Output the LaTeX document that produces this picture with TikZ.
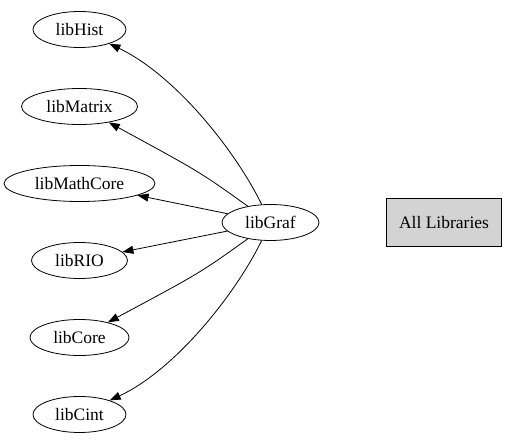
\documentclass[tikz,border=0pt]{standalone}
\usepackage{fontspec}
\setmainfont{Liberation Serif}
\usetikzlibrary{shapes.geometric,arrows.meta}
\definecolor{lgrey}{HTML}{D3D3D3}
\begin{document}
\begin{tikzpicture}[x=1pt,y=1pt,
  lib/.style={ellipse,draw,line width=0.8pt,inner sep=0pt,minimum height=36pt,font=\fontsize{17.5}{20}\selectfont},
  allbox/.style={rectangle,draw,line width=0.8pt,fill=lgrey,minimum width=115pt,minimum height=48pt,inner sep=0pt,font=\fontsize{17.5}{20}\selectfont},
  dep/.style={line width=0.8pt,-{Triangle[length=11pt,width=8pt]}}]
\useasboundingbox (0,0) rectangle (507,445);
\node[lib,minimum width=93pt]  (hist)     at (79.5,415.5) {libHist};
\node[lib,minimum width=116pt] (matrix)   at (79.5,338.5) {libMatrix};
\node[lib,minimum width=151pt] (mathcore) at (79.5,261.5) {libMathCore};
\node[lib,minimum width=96pt]  (rio)      at (79.5,184.5) {libRIO};
\node[lib,minimum width=99pt]  (core)     at (79.5,107.5) {libCore};
\node[lib,minimum width=93pt]  (cint)     at (79.5,30.5)  {libCint};
\node[lib,minimum width=97pt]  (graf)     at (270.5,222.5) {libGraf};
\node[allbox] (all) at (444,222.5) {All Libraries};
\draw[dep] (graf) .. controls (235,295) and (175,370) .. (hist);
\draw[dep] (graf) .. controls (200,273) .. (matrix);
\draw[dep] (graf) -- (mathcore);
\draw[dep] (graf) -- (rio);
\draw[dep] (graf) .. controls (200,172) .. (core);
\draw[dep] (graf) .. controls (235,150) and (175,75) .. (cint);
\end{tikzpicture}
\end{document}
